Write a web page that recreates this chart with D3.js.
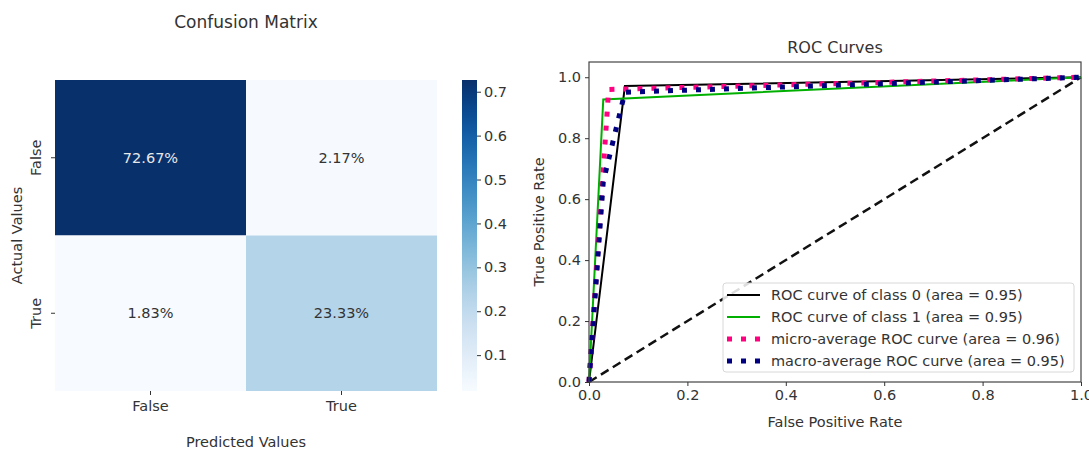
<!DOCTYPE html>
<html>
<head>
<meta charset="utf-8">
<script src="https://cdn.jsdelivr.net/npm/d3@7"></script>
<style>
  body { margin: 0; background: #fff; }
  text { font-family: "DejaVu Sans", sans-serif; fill: #333; }
</style>
</head>
<body>
<script>
// confusion matrix data
var cmRows = ["False", "True"];
var cmCols = ["False", "True"];
var cmValues = [[0.7267, 0.0217], [0.0183, 0.2333]];
var cbTicks = [0.1, 0.2, 0.3, 0.4, 0.5, 0.6, 0.7];

// roc data
var rocTicks = [0, 0.2, 0.4, 0.6, 0.8, 1.0];
var class0Fpr = [0, 0.073, 1], class0Tpr = [0, 0.971, 1];
var class1Fpr = [0, 0.029, 1], class1Tpr = [0, 0.927, 1];
var microFpr = [0, 0.04, 1], microTpr = [0, 0.96, 1];
var macroFpr = [0, 0.029, 0.073, 1], macroTpr = [0, 0.657, 0.951, 1];
var legendLabels = [
	"ROC curve of class 0 (area = 0.95)",
	"ROC curve of class 1 (area = 0.95)",
	"micro-average ROC curve (area = 0.96)",
	"macro-average ROC curve (area = 0.95)"
];

var FS = '14.5px';

var svg = d3.select('body')
	.append('svg')
	.attr('width', 1089)
	.attr('height', 450);

// ---------- confusion matrix ----------
var hm = {left: 55, right: 437, top: 80, bottom: 391};

var x = d3.scaleBand().domain(cmCols).range([hm.left, hm.right]);
var y = d3.scaleBand().domain(cmRows).range([hm.top, hm.bottom]);

var flat = [];
cmValues.forEach(function(row, i) {
	row.forEach(function(v, j) { flat.push({r: cmRows[i], c: cmCols[j], v: v}); });
});
var vmin = d3.min(flat, function(d) { return d.v; }),
	vmax = d3.max(flat, function(d) { return d.v; });
var color = d3.scaleSequential(d3.interpolateBlues).domain([vmin, vmax]);

svg.append('g').selectAll('rect')
	.data(flat)
	.enter().append('rect')
		.attr('x', function(d) { return x(d.c); })
		.attr('y', function(d) { return y(d.r); })
		.attr('width', x.bandwidth())
		.attr('height', y.bandwidth())
		.attr('fill', function(d) { return color(d.v); });

svg.append('g').selectAll('text')
	.data(flat)
	.enter().append('text')
		.attr('x', function(d) { return x(d.c) + x.bandwidth() / 2; })
		.attr('y', function(d) { return y(d.r) + y.bandwidth() / 2; })
		.attr('dy', '0.35em')
		.attr('text-anchor', 'middle')
		.style('font-size', FS)
		.style('fill', function(d) { return d.v > 0.4 ? '#e8e8e8' : '#333'; })
		.text(function(d) { return (d.v * 100).toFixed(2) + '%'; });

// heatmap axes
var hx = svg.append('g')
	.attr('transform', 'translate(0,' + hm.bottom + ')')
	.call(d3.axisBottom(x).tickSize(4).tickPadding(6));
var hy = svg.append('g')
	.attr('transform', 'translate(' + hm.left + ',0)')
	.call(d3.axisLeft(y).tickSize(4).tickPadding(4));
[hx, hy].forEach(function(a) {
	a.select('.domain').remove();
	a.selectAll('line').attr('stroke', '#333');
	a.selectAll('text').style('font-size', FS).style('font-family', '"DejaVu Sans", sans-serif').attr('fill', '#333');
});
hy.selectAll('.tick text')
	.attr('transform', 'rotate(-90)')
	.attr('x', 0).attr('y', -14)
	.attr('dy', 0)
	.attr('text-anchor', 'middle');

svg.append('text')
	.attr('x', (hm.left + hm.right) / 2).attr('y', 28)
	.attr('text-anchor', 'middle').style('font-size', '17px')
	.text('Confusion Matrix');
svg.append('text')
	.attr('x', (hm.left + hm.right) / 2).attr('y', 447)
	.attr('text-anchor', 'middle').style('font-size', FS)
	.text('Predicted Values');
svg.append('text')
	.attr('transform', 'translate(22,' + ((hm.top + hm.bottom) / 2) + ') rotate(-90)')
	.attr('text-anchor', 'middle').style('font-size', FS)
	.text('Actual Values');

// colorbar
var cb = {left: 462, width: 15};
var cbScale = d3.scaleLinear().domain([vmin, vmax]).range([hm.bottom, hm.top]);
var grad = svg.append('defs').append('linearGradient')
	.attr('id', 'cbgrad')
	.attr('x1', 0).attr('y1', 1).attr('x2', 0).attr('y2', 0);
d3.range(0, 1.0001, 0.05).forEach(function(t) {
	grad.append('stop').attr('offset', t).attr('stop-color', d3.interpolateBlues(t));
});
svg.append('rect')
	.attr('x', cb.left).attr('y', hm.top)
	.attr('width', cb.width).attr('height', hm.bottom - hm.top)
	.attr('fill', 'url(#cbgrad)');
var cbAxis = svg.append('g')
	.attr('transform', 'translate(' + (cb.left + cb.width) + ',0)')
	.call(d3.axisRight(cbScale).tickValues(cbTicks).tickSize(4).tickPadding(3).tickFormat(d3.format('.1f')));
cbAxis.select('.domain').remove();
cbAxis.selectAll('line').attr('stroke', '#333');
cbAxis.selectAll('text').style('font-size', FS).style('font-family', '"DejaVu Sans", sans-serif').attr('fill', '#333');

// ---------- ROC curves ----------
var rc = {left: 589, right: 1081, top: 62, bottom: 382};
var rx = d3.scaleLinear().domain([0, 1]).range([rc.left, rc.right]);
var ry = d3.scaleLinear().domain([0, 1.05]).range([rc.bottom, rc.top]);

var line = d3.line()
	.x(function(d) { return rx(d[0]); })
	.y(function(d) { return ry(d[1]); });

function pairs(a, b) { return a.map(function(v, i) { return [v, b[i]]; }); }

var plot = svg.append('g');
plot.append('path')
	.attr('d', line([[0, 0], [1, 1]]))
	.attr('fill', 'none').attr('stroke', '#111')
	.attr('stroke-width', 2.5).attr('stroke-dasharray', '9,5');

var series = [
	{fpr: class0Fpr, tpr: class0Tpr, color: '#000', width: 2, dash: null},
	{fpr: class1Fpr, tpr: class1Tpr, color: '#00b000', width: 2, dash: null},
	{fpr: microFpr, tpr: microTpr, color: '#ff0080', width: 5, dash: '5,9'},
	{fpr: macroFpr, tpr: macroTpr, color: '#000080', width: 5, dash: '5,9'}
];
series.forEach(function(s) {
	plot.append('path')
		.attr('d', line(pairs(s.fpr, s.tpr)))
		.attr('fill', 'none')
		.attr('stroke', s.color)
		.attr('stroke-width', s.width)
		.attr('stroke-dasharray', s.dash);
});

// frame
svg.append('rect')
	.attr('x', rc.left).attr('y', rc.top)
	.attr('width', rc.right - rc.left).attr('height', rc.bottom - rc.top)
	.attr('fill', 'none').attr('stroke', '#444').attr('stroke-width', 1.2);

var rxAxis = svg.append('g')
	.attr('transform', 'translate(0,' + rc.bottom + ')')
	.call(d3.axisBottom(rx).tickValues(rocTicks).tickSize(4).tickPadding(4).tickFormat(d3.format('.1f')));
var ryAxis = svg.append('g')
	.attr('transform', 'translate(' + rc.left + ',0)')
	.call(d3.axisLeft(ry).tickValues(rocTicks).tickSize(4).tickPadding(4).tickFormat(d3.format('.1f')));
[rxAxis, ryAxis].forEach(function(a) {
	a.select('.domain').remove();
	a.selectAll('line').attr('stroke', '#333');
	a.selectAll('text').style('font-size', FS).style('font-family', '"DejaVu Sans", sans-serif').attr('fill', '#333');
});

svg.append('text')
	.attr('x', (rc.left + rc.right) / 2).attr('y', 53)
	.attr('text-anchor', 'middle').style('font-size', '16px')
	.text('ROC Curves');
svg.append('text')
	.attr('x', (rc.left + rc.right) / 2).attr('y', 427)
	.attr('text-anchor', 'middle').style('font-size', FS)
	.text('False Positive Rate');
svg.append('text')
	.attr('transform', 'translate(544,' + ((rc.top + rc.bottom) / 2) + ') rotate(-90)')
	.attr('text-anchor', 'middle').style('font-size', FS)
	.text('True Positive Rate');

// legend
var lg = svg.append('g').attr('transform', 'translate(723,283)');
lg.append('rect')
	.attr('width', 351).attr('height', 89)
	.attr('rx', 3)
	.attr('fill', '#fff').attr('fill-opacity', 0.85)
	.attr('stroke', '#d8d8d8');
legendLabels.forEach(function(label, i) {
	var s = series[i];
	var yy = 12 + i * 22;
	lg.append('line')
		.attr('x1', 4).attr('x2', 37)
		.attr('y1', yy).attr('y2', yy)
		.attr('stroke', s.color)
		.attr('stroke-width', s.width)
		.attr('stroke-dasharray', s.dash);
	lg.append('text')
		.attr('x', 48).attr('y', yy)
		.attr('dy', '0.35em')
		.style('font-size', FS)
		.text(label);
});
</script>
</body>
</html>
